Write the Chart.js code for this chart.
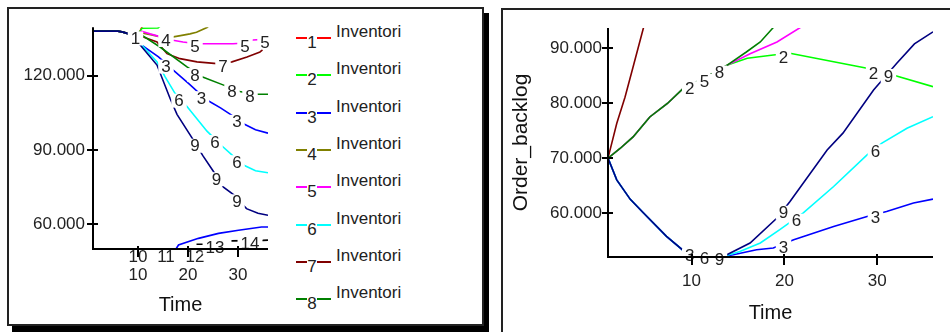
<!DOCTYPE html>
<html>
<head>
<meta charset="utf-8">
<script src="https://cdn.jsdelivr.net/npm/chart.js@4/dist/chart.umd.min.js"></script>
<style>
  html, body { margin: 0; padding: 0; background: #fff; width: 950px; height: 332px; overflow: hidden;
    font-family: "Liberation Sans", Arial, sans-serif; }
  .box { position: absolute; box-sizing: border-box; background: #fff; }
  #boxL { left: 7px; top: 7px; width: 477px; height: 319px; border: 2px solid #222; box-shadow: 5px 6px 0 #000; }
  #boxR { left: 501px; top: 8px; width: 470px; height: 340px; border: 2px solid #222; }
  canvas { position: absolute; }
  #cL { left: 9px; top: 9px; }
  #cR { left: 503px; top: 11px; }
  #legend { position: absolute; left: 290px; top: 12px; width: 185px; height: 306px; overflow: hidden; }
  .item { position: absolute; left: 0; width: 185px; height: 36px; }
  .dash { position: absolute; height: 2px; top: 25px; }
  .num { position: absolute; left: 14px; width: 16px; top: 22px; font-size: 17px; line-height: 17px; color: #222; text-align: center; }
  .txt { position: absolute; left: 46px; top: 11px; font-size: 17px; line-height: 17px; color: #222; white-space: nowrap; }
</style>
</head>
<body>
<div class="box" id="boxL"></div>
<div class="box" id="boxR"></div>
<canvas id="cL" width="276" height="314"></canvas>
<div id="legend"></div>
<canvas id="cR" width="447" height="321"></canvas>
<script>
const FONT = '"Liberation Sans", Arial, sans-serif';

// Run numbers and their line colours
const runIds = [1, 2, 3, 4, 5, 6, 7, 8, 9, 10, 11, 12, 13, 14];
const runColors = ['#ff0000', '#00ff00', '#0000ff', '#808000', '#ff00ff', '#00ffff', '#800000',
                   '#008000', '#000080', '#008080', '#0000ff', '#800080', '#000000', '#000000'];
const legendName = 'Inventori';

// Axis ticks
const timeTicks = [10, 20, 30];
const invTicks = [60000, 90000, 120000];
const backlogTicks = [60000, 70000, 80000, 90000];

// ---- Inventori per run: [time, value] ----
const invStart = [[1, 138000], [6, 138000], [7, 137600], [8, 137000], [9, 136300]];
const inv1 = invStart.concat([[10, 136200], [11, 140600]]);
const inv2 = invStart.concat([[10, 136800], [10.8, 139200], [14, 139300], [15, 141000]]);
const inv3 = invStart.concat([[10.4, 132900], [14.1, 127600], [16.7, 122900], [20.1, 116900], [23.7, 110300],
  [26.5, 107000], [29.1, 103600], [31.4, 100300], [33.5, 98200], [36, 96800]]);
const inv4 = invStart.concat([[10.5, 137400], [12.5, 136600], [14.5, 135700], [16.8, 135600], [18.5, 136200],
  [20.4, 136900], [21.7, 137600], [23.8, 139500], [24.5, 140600]]);
const inv5 = invStart.concat([[10.8, 137900], [12.4, 136900], [14, 136000], [17, 134300], [19, 133600],
  [21.4, 133000], [22.8, 132900], [29, 132900], [31.4, 133200], [33, 134400], [36, 134800]]);
const inv6 = invStart.concat([[10.8, 132300], [13.8, 125600], [15.4, 119600], [17.4, 112900], [19.8, 107600],
  [23.8, 97600], [26.8, 91600], [29, 87600], [31.4, 83600], [33.5, 81600], [36, 80800]]);
const inv7 = invStart.concat([[10.5, 136000], [13.8, 133600], [15.8, 128900], [18.4, 126900], [21.8, 125600],
  [25.8, 124900], [28.8, 125600], [31.8, 127600], [34.4, 129600], [34.9, 130400]]);
const inv8 = invStart.concat([[10.8, 136300], [14.4, 131600], [19.8, 123600], [22.8, 119600], [27, 116300],
  [30.4, 113600], [32, 112900], [34, 112500], [36, 112500]]);
const inv9 = invStart.concat([[10.4, 132500], [13.8, 124300], [16.4, 110900], [17.8, 104400], [20.8, 94900],
  [23, 87600], [25, 81600], [27.1, 75000], [29.1, 72000], [31.7, 66300], [34, 64400], [36, 63600]]);
const inv10 = [[1, 45000], [36, 45000]];
const inv11 = [[1, 46000], [17, 48000], [17.6, 50000], [18.1, 51600], [22.1, 54300], [26.1, 56300],
  [30.1, 57600], [34.7, 58900], [36, 58900]];
const inv12 = [[1, 45000], [36, 45000]];
const inv13 = [[21.7, 51900], [24, 51900], [27, 51900]];
const inv14 = [[28.7, 53300], [32, 53400], [35, 53500], [36, 53600]];
const invRuns = [inv1, inv2, inv3, inv4, inv5, inv6, inv7, inv8, inv9, inv10, inv11, inv12, inv13, inv14];
// times where each run carries its number
const invLabelTimes = [[9.5], [], [15.6, 22.7, 29.8], [15.6], [21.4, 31.4, 35.4], [18.2, 25.4, 29.8], [27.0],
  [21.4, 28.8, 32.4], [21.4, 25.7, 29.8], [10], [15.6], [21.4], [25.4], [32.4]];

// ---- Order_backlog per run: [time, value] ----
const obUp = [[1, 70000], [2.3, 71760], [3.7, 73870], [5.5, 77500], [7.4, 79950], [9.1, 82700],
  [11.5, 84700], [13.8, 86900]];
const obDown = [[1, 70000], [1.94, 66050], [3.4, 62500], [4.8, 60050], [7.3, 55750], [9.1, 53200],
  [10.9, 52300], [13.4, 52100]];
const ob2 = obUp.concat([[16, 88180], [18.8, 88780], [20.6, 89090], [25.3, 87560], [28.9, 86360],
  [31.7, 85140], [36, 83020]]);
const ob3 = obDown.concat([[14.5, 52420], [17, 53330], [18.8, 53640], [21, 55150], [25.3, 57560],
  [28.9, 59380], [31, 60290], [33.9, 61820], [36, 62550]]);
const ob5 = obUp.concat([[16.3, 89000], [19.2, 91150], [21.7, 93780], [22.3, 94500]]);
const ob6 = obDown.concat([[15.2, 53020], [17.4, 54550], [19.5, 56970], [22, 60000], [25.3, 64840],
  [28.9, 70600], [30.5, 72730], [33.2, 75450], [36, 77560]]);
const ob7 = [[1, 70000], [1.94, 76300], [2.83, 81100], [3.7, 86600], [4.8, 93600], [5, 94800]];
const ob8 = obUp.concat([[15.9, 89330], [17.4, 91150], [18.8, 93780], [19.3, 94600]]);
const ob9 = obDown.concat([[13.8, 52400], [16.3, 54550], [19.2, 59090], [20.6, 62110], [24.6, 71500],
  [26.3, 74550], [29.6, 82420], [32.1, 87270], [34, 90800], [36, 93000]]);
const backlogIds = [2, 3, 5, 6, 7, 8, 9];
const backlogRuns = [ob2, ob3, ob5, ob6, ob7, ob8, ob9];
const backlogLabelTimes = [[9.8, 19.9, 29.6], [9.8, 19.9, 29.8], [11.4], [11.4, 21.3, 29.8], [],
  [13.0], [13.0, 19.9, 31.2]];

const fmtThousands = v => (v / 1000).toFixed(3);

// value of a run at time t (for placing its number on the line)
function valueAt(data, t) {
  for (let i = 0; i < data.length - 1; i++) {
    const [t0, v0] = data[i], [t1, v1] = data[i + 1];
    if (t >= t0 && t <= t1) return t1 === t0 ? v0 : v0 + (v1 - v0) * (t - t0) / (t1 - t0);
  }
  return null;
}

// Numbers written on the lines, then the axes with crossing tick marks
const runLabels = {
  id: 'runLabels',
  afterDatasetsDraw(chart) {
    const { ctx, chartArea: a, scales: { x, y } } = chart;
    ctx.save();
    ctx.font = '17px ' + FONT;
    ctx.textAlign = 'center';
    ctx.textBaseline = 'middle';
    chart.data.datasets.forEach(ds => {
      (ds.labelTimes || []).forEach(t => {
        const v = valueAt(ds.data, t);
        if (v === null) return;
        let py = y.getPixelForValue(v);
        py = Math.max(a.top + 2, Math.min(a.bottom + 4, py)) + 3;
        const px = x.getPixelForValue(t);
        const w = ctx.measureText(ds.label).width + 6;
        ctx.fillStyle = '#fff';
        ctx.fillRect(px - w / 2, py - 7, w, 14);
        ctx.fillStyle = '#222';
        ctx.fillText(ds.label, px, py + 1);
      });
    });
    ctx.strokeStyle = '#000';
    ctx.lineWidth = 2;
    ctx.beginPath();
    ctx.moveTo(a.left, a.top);
    ctx.lineTo(a.left, a.bottom);
    ctx.lineTo(a.right, a.bottom);
    y.ticks.forEach(t => {
      const py = Math.round(y.getPixelForValue(t.value));
      ctx.moveTo(a.left - 6, py); ctx.lineTo(a.left + 5, py);
    });
    x.ticks.forEach(t => {
      const px = Math.round(x.getPixelForValue(t.value));
      ctx.moveTo(px, a.bottom - 3); ctx.lineTo(px, a.bottom + 8);
    });
    ctx.stroke();
    ctx.restore();
  }
};

function makeDatasets(ids, runs, labelTimes) {
  return ids.map((id, i) => ({
    label: String(id),
    data: runs[i],
    labelTimes: labelTimes[i],
    borderColor: runColors[id - 1],
    borderWidth: 1.6,
    pointRadius: 0,
    tension: 0,
    fill: false,
    order: 100 - id
  }));
}

function makeChart(canvas, datasets, opt) {
  return new Chart(canvas, {
    type: 'line',
    data: { datasets },
    plugins: [runLabels],
    options: {
      responsive: false,
      animation: false,
      devicePixelRatio: 1,
      layout: { padding: opt.padding },
      plugins: { legend: { display: false }, tooltip: { enabled: false } },
      scales: {
        x: {
          type: 'linear', min: 1, max: 36,
          grid: { display: false, drawTicks: false },
          border: { display: false },
          afterBuildTicks: s => { s.ticks = timeTicks.map(v => ({ value: v })); },
          afterFit: s => { s.height = opt.xHeight; },
          ticks: { font: { size: 17, family: FONT }, color: '#222', padding: opt.xPad, maxRotation: 0, autoSkip: false },
          title: { display: true, text: 'Time', font: { size: 20, family: FONT }, color: '#111',
                   padding: { top: 0, bottom: opt.timePad } }
        },
        y: {
          type: 'linear', min: opt.yMin, max: opt.yMax,
          grid: { display: false, drawTicks: false },
          border: { display: false },
          afterBuildTicks: s => { s.ticks = opt.yTicks.map(v => ({ value: v })); },
          afterFit: s => { s.width = opt.yWidth; },
          ticks: { font: { size: 17, family: FONT }, color: '#222', padding: opt.yPad, callback: fmtThousands },
          title: opt.yTitle ? { display: true, text: opt.yTitle, font: { size: 21, family: FONT }, color: '#111',
                   padding: { top: 6, bottom: 0 } } : { display: false }
        }
      }
    }
  });
}

makeChart(document.getElementById('cL'), makeDatasets(runIds, invRuns, invLabelTimes), {
  padding: { left: 0, right: 17, top: 16, bottom: 0 },
  xHeight: 74, xPad: 16, timePad: 6, yWidth: 84, yPad: 8,
  yMin: 50000, yMax: 139600, yTicks: invTicks, yTitle: null
});

makeChart(document.getElementById('cR'), makeDatasets(backlogIds, backlogRuns, backlogLabelTimes), {
  padding: { left: 0, right: 17, top: 17, bottom: 0 },
  xHeight: 75, xPad: 14, timePad: 7, yWidth: 105, yPad: 6,
  yMin: 52000, yMax: 93700, yTicks: backlogTicks, yTitle: 'Order_backlog'
});

// Legend of the Inventori runs
const legend = document.getElementById('legend');
runIds.forEach((id, i) => {
  const item = document.createElement('div');
  item.className = 'item';
  item.style.top = (i * 37.3) + 'px';
  const c = runColors[id - 1];
  item.innerHTML =
    '<div class="dash" style="left:6px;width:11px;background:' + c + '"></div>' +
    '<div class="num">' + id + '</div>' +
    '<div class="dash" style="left:27px;width:14px;background:' + c + '"></div>' +
    '<div class="txt">' + legendName + '</div>';
  legend.appendChild(item);
});
</script>
</body>
</html>
